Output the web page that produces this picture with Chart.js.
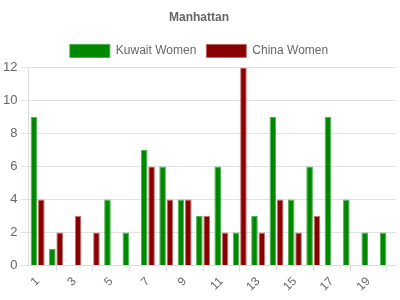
<!DOCTYPE html>
<html>
<head>
<meta charset="utf-8">
<script src="https://cdn.jsdelivr.net/npm/chart.js@4"></script>
<style>
    html, body { margin: 0; padding: 0; background: #fff; }
    #wrap { width: 400px; height: 300px; }
</style>
</head>
<body>
<div id="wrap"><canvas id="manhattan-chart"></canvas></div>
<script>
const categories = ["1", "2", "3", "4", "5", "6", "7", "8", "9", "10",
    "11", "12", "13", "14", "15", "16", "17", "18", "19", "20"];
const kuwait_women = [9, 1, 0, 0, 4, 2, 7, 6, 4, 3, 6, 2, 3, 9, 4, 6, 9, 4, 2, 2];
const china_women = [4, 2, 3, 2, 0, 0, 6, 4, 4, 3, 2, 12, 2, 4, 2, 3, 0, 0, 0, 0];
const y_ticks = [0, 2, 4, 6, 8, 10, 12];

Chart.defaults.font.family = "'Liberation Sans', Arial, sans-serif";
Chart.defaults.font.size = 12;
Chart.defaults.color = "#666";

const ctx = document.getElementById("manhattan-chart");

new Chart(ctx, {
    type: "bar",
    data: {
        labels: categories,
        datasets: [
            {
                label: "Kuwait Women",
                data: kuwait_women,
                backgroundColor: "#008800",
                borderColor: "rgba(60,170,60,0.9)",
                borderWidth: 1,
            },
            {
                label: "China Women",
                data: china_women,
                backgroundColor: "#880000",
                borderColor: "rgba(190,100,100,0.9)",
                borderWidth: 1,
            },
        ],
    },
    options: {
        responsive: true,
        maintainAspectRatio: false,
        animation: false,
        layout: { padding: { left: 0, right: 2, top: 6, bottom: 3 } },
        categoryPercentage: 0.8,
        barPercentage: 0.9,
        plugins: {
            title: {
                display: true,
                text: "Manhattan",
                color: "#666",
                font: { size: 12, weight: "bold" },
                padding: { top: 4, bottom: 10 },
            },
            legend: {
                labels: {
                    boxWidth: 40,
                    boxHeight: 13,
                    color: "#666",
                    font: { size: 12 },
                },
            },
            tooltip: { enabled: false },
        },
        scales: {
            x: {
                grid: {
                    offset: false,
                    drawOnChartArea: false,
                    tickLength: 6,
                    // tick marks only on the even categories
                    color: (c) => (c.index % 2 === 1 ? "#ddd" : "rgba(0,0,0,0)"),
                },
                border: { color: "#ddd" },
                ticks: {
                    autoSkip: false,
                    maxRotation: 45,
                    minRotation: 45,
                    color: "#666",
                    callback: function (value, index) {
                        return index % 2 === 0 ? categories[index] : "";
                    },
                },
            },
            y: {
                min: 0,
                max: 12,
                afterBuildTicks: (axis) => {
                    axis.ticks = y_ticks.map((v) => ({ value: v }));
                },
                grid: { color: "#e2e2e2", tickLength: 8 },
                border: { color: "#ddd" },
                ticks: { color: "#666", padding: 3, font: { size: 13 } },
            },
        },
    },
});
</script>
</body>
</html>
